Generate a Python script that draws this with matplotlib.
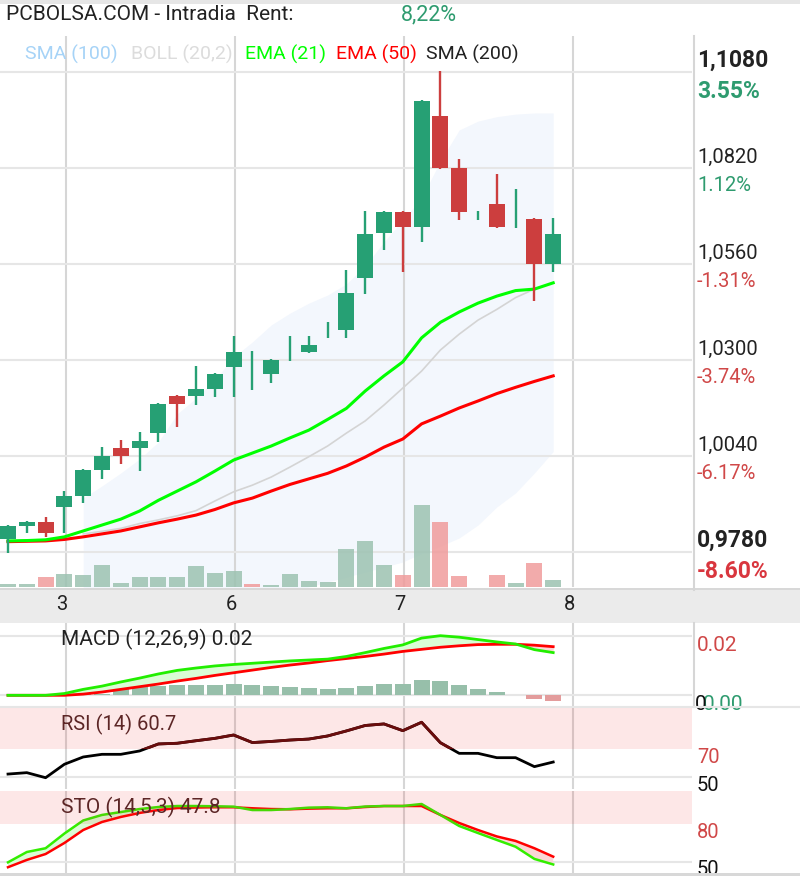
import numpy as np
import matplotlib
matplotlib.use('Agg')
import matplotlib.pyplot as plt
from matplotlib.patches import Rectangle
from matplotlib.lines import Line2D
from matplotlib.transforms import blended_transform_factory, offset_copy

plt.rcParams['font.family'] = ['Roboto', 'DejaVu Sans']

W, H = 800, 876
nan = np.nan

# hourly candles, 30 bars
opens = [0.9814, 0.9851, 0.9862, 0.9903, 0.9932, 1.0003, 1.0062, 1.0062, 1.0103, 1.0203,
         1.0203, 1.0222, 1.0282, 1.0267, 1.0263, 1.0327, 1.0322, 1.0381, 1.0382, 1.0523,
         1.0643, 1.0701, 1.0661, 1.0961, 1.0820, 1.0690, 1.0723, 1.0706, 1.0682, 1.0561]
highs = [0.9853, 0.9865, 0.9876, 0.9945, 1.0005, 1.0065, 1.0083, 1.0105, 1.0184, 1.0205,
         1.0284, 1.0266, 1.0365, 1.0324, 1.0303, 1.0365, 1.0365, 1.0403, 1.0544, 1.0704,
         1.0704, 1.0704, 1.1004, 1.1083, 1.0844, 1.0704, 1.0804, 1.0763, 1.0685, 1.0685]
lows = [0.9778, 0.9831, 0.9820, 0.9831, 0.9912, 0.9979, 1.0019, 1.0000, 1.0079, 1.0119,
        1.0178, 1.0201, 1.0201, 1.0219, 1.0239, 1.0298, 1.0320, 1.0360, 1.0360, 1.0480,
        1.0599, 1.0539, 1.0620, 1.0818, 1.0680, 1.0680, 1.0658, 1.0658, 1.0461, 1.0539]
closes = [0.9850, 0.9862, 0.9832, 0.9932, 1.0002, 1.0040, 1.0041, 1.0081, 1.0181, 1.0182,
          1.0221, 1.0262, 1.0322, 1.0267, 1.0300, 1.0327, 1.0341, 1.0381, 1.0481, 1.0641,
          1.0701, 1.0661, 1.1001, 1.0821, 1.0702, 1.0690, 1.0661, 1.0706, 1.0561, 1.0641]
volume = [2.7, 2.7, 9.7, 12.7, 11.7, 21.7, 3.7, 9.7, 9.7, 9.7,
          20.7, 13.7, 15.7, 2.7, 1.7, 12.7, 5.7, 4.7, 37.7, 45.7,
          21.7, 11.7, 81.7, 64.7, 10.7, 0.0, 11.7, 3.7, 23.7, 6.7]

ema21 = [0.9810, 0.9811, 0.9813, 0.9821, 0.9837, 0.9853, 0.9869, 0.9891, 0.9920, 0.9945,
         0.9970, 0.9999, 1.0029, 1.0048, 1.0067, 1.0089, 1.0110, 1.0139, 1.0169, 1.0216,
         1.0257, 1.0295, 1.0360, 1.0402, 1.0430, 1.0454, 1.0473, 1.0488, 1.0492, 1.0509]
ema50 = [0.9808, 0.9809, 0.9810, 0.9814, 0.9821, 0.9829, 0.9837, 0.9848, 0.9859, 0.9869,
         0.9880, 0.9895, 0.9913, 0.9926, 0.9945, 0.9963, 0.9978, 0.9993, 1.0013, 1.0037,
         1.0064, 1.0086, 1.0127, 1.0148, 1.0170, 1.0189, 1.0209, 1.0226, 1.0242, 1.0257]
sma200 = [nan, nan, nan, nan, 0.9829, 0.9836, 0.9844, 0.9857, 0.9867, 0.9878,
          0.9892, 0.9918, 0.9943, 0.9961, 0.9983, 1.0010, 1.0038, 1.0067, 1.0102, 1.0135,
          1.0178, 1.0224, 1.0270, 1.0327, 1.0370, 1.0408, 1.0437, 1.0469, 1.0492, 1.0509]
boll_up = [nan, nan, nan, nan, 0.9926, 0.9959, 0.9994, 1.0032, 1.0078, 1.0154,
           1.0197, 1.0246, 1.0308, 1.0349, 1.0395, 1.0427, 1.0454, 1.0476, 1.0506, 1.0555,
           1.0620, 1.0679, 1.0739, 1.0839, 1.0923, 1.0947, 1.0959, 1.0966, 1.0969, 1.0969]
boll_lo = [nan, nan, nan, nan, 0.9560, 0.9570, 0.9580, 0.9585, 0.9590, 0.9600,
           0.9610, 0.9620, 0.9630, 0.9640, 0.9655, 0.9670, 0.9685, 0.9699, 0.9712, 0.9726,
           0.9739, 0.9753, 0.9776, 0.9796, 0.9818, 0.9853, 0.9902, 0.9940, 0.9994, 1.0052]

macd = [0.0000, 0.0000, 0.0000, 0.0006, 0.0020, 0.0031, 0.0045, 0.0058, 0.0072, 0.0084,
        0.0092, 0.0099, 0.0104, 0.0108, 0.0112, 0.0116, 0.0119, 0.0122, 0.0131, 0.0144,
        0.0158, 0.0170, 0.0193, 0.0201, 0.0196, 0.0188, 0.0180, 0.0173, 0.0154, 0.0144]
macd_signal = [0.0000, 0.0000, 0.0000, 0.0000, 0.0004, 0.0011, 0.0020, 0.0029, 0.0038, 0.0048,
               0.0057, 0.0067, 0.0076, 0.0085, 0.0094, 0.0102, 0.0109, 0.0117, 0.0124, 0.0131,
               0.0139, 0.0148, 0.0155, 0.0162, 0.0167, 0.0171, 0.0172, 0.0172, 0.0169, 0.0164]
macd_hist = [0.0, 0.0, 0.0, 0.0002, 0.0003, 0.0006, 0.0025, 0.0028, 0.0030, 0.0034,
             0.0034, 0.0034, 0.0037, 0.0034, 0.0030, 0.0028, 0.0025, 0.0021, 0.0025, 0.0030,
             0.0037, 0.0037, 0.0052, 0.0047, 0.0034, 0.0021, 0.0010, 0.0, -0.0013, -0.0020]

rsi = [52.1, 53.1, 49.5, 59.1, 64.3, 66.2, 66.2, 68.6, 73.6, 74.1,
       75.9, 77.6, 80.0, 74.6, 75.4, 76.4, 77.1, 79.3, 82.9, 86.8,
       87.9, 83.1, 89.1, 74.5, 66.9, 66.9, 63.8, 63.8, 57.4, 60.7]
sto_k = [49.5, 57.7, 60.7, 72.4, 82.8, 87.2, 89.5, 91.9, 93.5, 94.3,
         94.3, 94.1, 93.8, 91.1, 91.1, 91.9, 93.0, 93.3, 92.5, 93.9,
         94.3, 94.3, 95.9, 87.2, 78.4, 72.8, 67.3, 61.9, 52.2, 47.8]
sto_d = [45.6, 51.4, 56.1, 64.9, 75.2, 81.6, 85.6, 88.8, 91.1, 92.7,
         93.1, 93.3, 93.3, 92.5, 91.9, 91.7, 92.2, 92.5, 92.5, 93.5,
         94.3, 94.3, 94.3, 87.2, 80.8, 75.2, 70.1, 66.5, 60.7, 54.0]

day_pos = [3, 12, 21, 30]
day_labels = ['3', '6', '7', '8']
price_levels = [1.1080, 1.0820, 1.0560, 1.0300, 1.0040, 0.9780]
price_labels = ['1,1080', '1,0820', '1,0560', '1,0300', '1,0040', '0,9780']
pct_labels = ['3.55%', '1.12%', '-1.31%', '-3.74%', '-6.17%', '-8.60%']

GREEN = '#26A074'
RED = '#CC3E3E'
GRID_H = '#E6E6E6'
GRID_V = '#D6D6D6'
XLIM = (-0.4255, 36.383)

x = np.arange(len(closes))
o, c = np.array(opens), np.array(closes)
up = c >= o
ccol = np.where(up, GREEN, RED)
prev = np.r_[c[0], c[:-1]]
vcol = np.where(c >= prev, '#9CC2B1', '#F09C9C')
dlines = np.array(day_pos) + 0.07

fig = plt.figure(figsize=(W / 100, H / 100), dpi=100)


def fy(ypx):
    return 1 - ypx / H


def panel(top, bottom):
    a = fig.add_axes([0, 1 - bottom / H, 692 / W, (bottom - top) / H])
    a.set_xlim(*XLIM)
    a.axis('off')
    for d in dlines:
        a.axvline(d, color=GRID_V, lw=1.5, zorder=1)
    return a


# ---- main price panel
ax = panel(36, 587)
ax.set_ylim(0.96852, 1.11775)
for lv in price_levels:
    ax.axhline(lv, color=GRID_H, lw=1.5, zorder=1)
ax.fill_between(x, boll_lo, boll_up, color='#F3F7FD', lw=0, zorder=0.5)
ax.plot(x, sma200, color='#D4D4D4', lw=1.2, zorder=3)
ax.plot(x, ema50, color='#FF0000', lw=2.2, zorder=3)
ax.plot(x, ema21, color='#00FF00', lw=2.2, zorder=3)
ax.vlines(x, lows, highs, color=ccol, lw=1.7, zorder=4)
ax.bar(x, np.abs(c - o), bottom=np.minimum(o, c), width=0.85, color=ccol, zorder=5)

axv = ax.twinx()
axv.axis('off')
axv.set_ylim(0, 551)
axv.bar(x, volume, width=0.85, color=vcol, alpha=0.85, zorder=2)

# legend line + title
legend = [('SMA (100)', '#A6D3F7', 25), ('BOLL (20,2)', '#DCDCDC', 131),
          ('EMA (21)', '#00FF00', 245), ('EMA (50)', '#FF0000', 336),
          ('SMA (200)', '#222222', 426)]
for s, col, xp in legend:
    fig.text(xp / W, fy(54), s, color=col, fontsize=14, va='center')
fig.text(6 / W, fy(15), 'PCBOLSA.COM - Intradia  Rent:', fontsize=15, color='#222222', va='center')
fig.text(401 / W, fy(15), '8,22%', fontsize=15.5, color='#2E9B6F', va='center')

# right price labels
blend = blended_transform_factory(fig.transFigure, ax.transData)
t_up = offset_copy(blend, fig=fig, y=5, units='dots')
t_dn = offset_copy(blend, fig=fig, y=-8, units='dots')
for k, (lv, pl, pc) in enumerate(zip(price_levels, price_labels, pct_labels)):
    bold = k in (0, len(price_levels) - 1)
    neg = pc.startswith('-')
    pcol = ('#D9363E' if bold else '#D04848') if neg else '#2E9B6F'
    ax.text(697 / W, lv, pl, transform=t_up, va='baseline', color='#222222',
            fontsize=16.5 if bold else 14.5, fontweight='bold' if bold else 'normal')
    ax.text(697 / W, lv, pc, transform=t_dn, va='top', color=pcol,
            fontsize=16.5 if bold else 14.5, fontweight='bold' if bold else 'normal')

# x axis band
fig.add_artist(Rectangle((0, fy(623)), 1, 35 / H, transform=fig.transFigure,
                         color='#EBEBEB', lw=0))
fig.add_artist(Rectangle((0, fy(590)), 1, 2.5 / H, transform=fig.transFigure,
                         color='#D8D8D8', lw=0))
xb = blended_transform_factory(ax.transData, fig.transFigure)
for d, lab in zip(dlines, day_labels):
    fig.text(d - 0.2, fy(604), lab, transform=xb, ha='center', va='center',
             fontsize=14.5, color='#222222')

# ---- MACD
axm = panel(623, 707)
axm.set_ylim(-0.003946, 0.024384)
for lv in (0.02, 0.0):
    axm.axhline(lv, color=GRID_H, lw=1.5, zorder=1)
mh = np.array(macd_hist)
axm.bar(x, mh, width=0.85, color=np.where(mh >= 0, '#97BFAA', '#E39C9C'), zorder=2)
m, s = np.array(macd), np.array(macd_signal)
axm.fill_between(x, m, s, where=m >= s, interpolate=True, color='#DAFCD6', lw=0, zorder=2.5)
axm.fill_between(x, m, s, where=m < s, interpolate=True, color='#FAD6D6', lw=0, zorder=2.5)
axm.plot(x, s, color='#FF0000', lw=2, zorder=3)
axm.plot(x, m, color='#22EE00', lw=2, zorder=3)
axm.text(61 / 692, 0.81, 'MACD (12,26,9) 0.02', transform=axm.transAxes, fontsize=15,
         color='#222222', va='center')
bm = blended_transform_factory(fig.transFigure, axm.transData)
axm.text(697 / W, 0.02, '0.02', transform=offset_copy(bm, fig=fig, y=0, units='dots'),
         va='top', color='#D04848', fontsize=15)
axm.text(703 / W, 0.0, '0.00', transform=offset_copy(bm, fig=fig, y=0, units='dots'),
         va='top', color='#2E9B6F', fontsize=15)
axm.text(695 / W, 0.0, '0', transform=offset_copy(bm, fig=fig, y=0, units='dots'),
         va='top', color='#111111', fontsize=15)

# ---- RSI
axr = panel(707, 789)
axr.set_ylim(41.43, 100)
axr.axhline(50, color=GRID_H, lw=1.5, zorder=1)
axr.plot(x, rsi, color='#000000', lw=2, zorder=3)
hi, = axr.plot(x, rsi, color='#5A0A0A', lw=2, zorder=3.5)
hi.set_clip_path(Rectangle((XLIM[0], 70), XLIM[1] - XLIM[0], 40, transform=axr.transData))
axr.axhspan(70, 100, color='#EE2626', alpha=0.11, lw=0, zorder=6)
axr.text(61 / 692, 0.79, 'RSI (14) 60.7', transform=axr.transAxes, fontsize=14.5,
         color='#4A2626', va='center', zorder=5)
br = blended_transform_factory(fig.transFigure, axr.transData)
axr.text(697 / W, 70, '70', transform=offset_copy(br, fig=fig, y=1, units='dots'),
         va='top', color='#D04848', fontsize=14.5)
axr.text(697 / W, 50, '50', transform=offset_copy(br, fig=fig, y=1, units='dots'),
         va='top', color='#111111', fontsize=14.5)

# ---- Stochastic
axs = panel(791, 873)
axs.set_ylim(41.0, 106.25)
axs.axhline(50, color=GRID_H, lw=1.5, zorder=1)
k_, d_ = np.array(sto_k), np.array(sto_d)
axs.fill_between(x, k_, d_, where=k_ >= d_, interpolate=True, color='#DAFCD6', lw=0, zorder=2)
axs.fill_between(x, k_, d_, where=k_ < d_, interpolate=True, color='#FAD6D6', lw=0, zorder=2)
axs.plot(x, d_, color='#FF0000', lw=1.8, zorder=3)
axs.plot(x, k_, color='#33EE00', lw=1.8, zorder=3)
axs.axhspan(80, 106.25, color='#EE2626', alpha=0.11, lw=0, zorder=6)
axs.text(61 / 692, 0.80, 'STO (14,5,3) 47.8', transform=axs.transAxes, fontsize=15,
         color='#4A2626', va='center', zorder=5)
bs = blended_transform_factory(fig.transFigure, axs.transData)
axs.text(697 / W, 80, '80', transform=offset_copy(bs, fig=fig, y=1, units='dots'),
         va='top', color='#D04848', fontsize=14.5)
axs.text(697 / W, 50, '50', transform=offset_copy(bs, fig=fig, y=2, units='dots'),
         va='top', color='#111111', fontsize=14.5)

# frame lines
fig.add_artist(Rectangle((0, fy(4)), 1, 4 / H, transform=fig.transFigure, color='#E6E6E6', lw=0))
fig.add_artist(Rectangle((0, 0), 1, 3 / H, transform=fig.transFigure, color='#D8D8D8', lw=0))
fig.add_artist(Line2D([694 / W] * 2, [fy(36), fy(590)], color=GRID_V, lw=1.5))
fig.add_artist(Line2D([694 / W] * 2, [fy(623), fy(707)], color=GRID_V, lw=1.5))
fig.add_artist(Line2D([0, 1], [fy(707), fy(707)], color=GRID_H, lw=1.5))

fig.savefig('out.png', dpi=100)
